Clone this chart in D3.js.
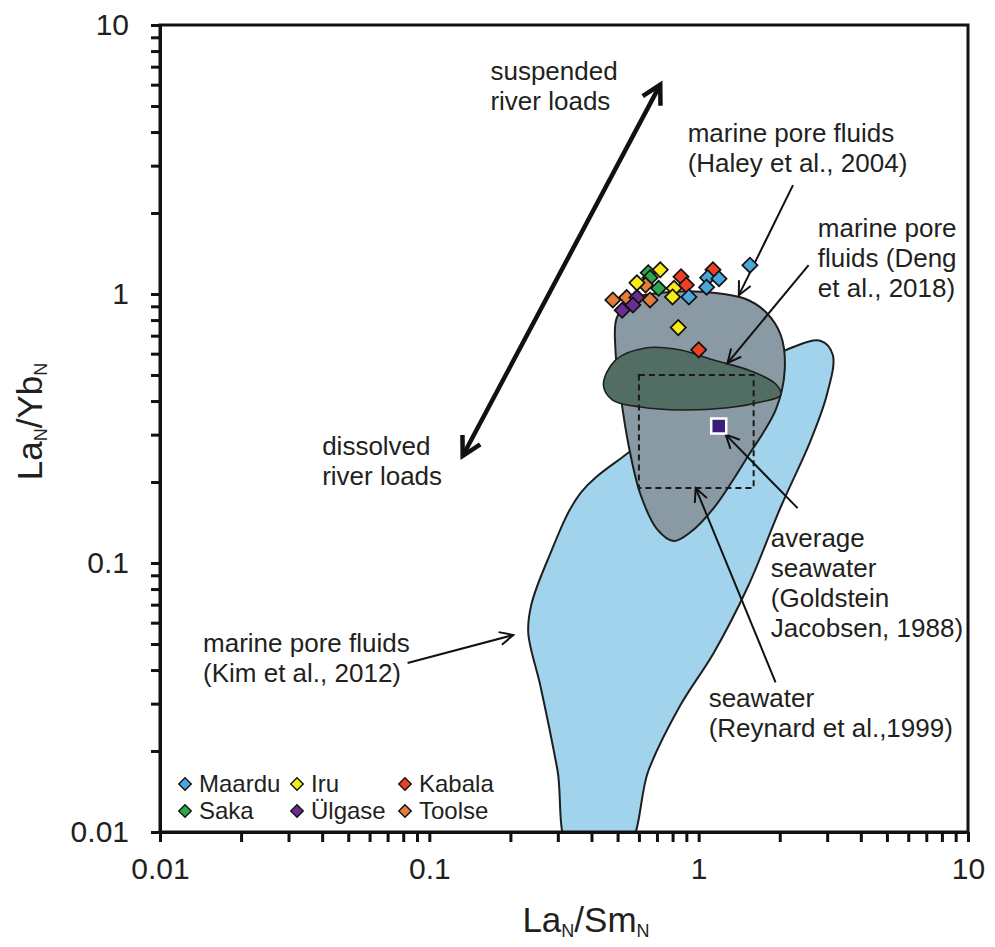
<!DOCTYPE html>
<html>
<head>
<meta charset="utf-8">
<script src="https://cdn.jsdelivr.net/npm/d3@7"></script>
<style>
  body { margin: 0; background: #fff; }
  text { font-family: "Liberation Sans", Arial, Helvetica, sans-serif; fill: #231f20; }
</style>
</head>
<body>
<div id="chart"></div>
<script>
// axis ticks
const majorTicks = [0.01, 0.1, 1, 10];
const tickLabels = ['0.01', '0.1', '1', '10'];

// sample groups (LaN/SmN, LaN/YbN)
const seriesNames = ['Maardu', 'Iru', 'Kabala', 'Saka', 'Ülgase', 'Toolse'];
const seriesColors = ['#4ba6dd', '#f6eb16', '#ee4124', '#2aa84a', '#6b2d91', '#e27d3b'];
const maarduX = [1.55, 1.08, 1.19, 1.07, 0.92];
const maarduY = [1.28, 1.15, 1.14, 1.06, 0.975];
const iruX = [0.72, 0.59, 0.81, 0.80, 0.84];
const iruY = [1.23, 1.10, 1.05, 0.975, 0.75];
const kabalaX = [0.86, 0.90, 1.13, 1.0];
const kabalaY = [1.16, 1.08, 1.23, 0.62];
const sakaX = [0.65, 0.66, 0.71];
const sakaY = [1.20, 1.15, 1.05];
const ulgaseX = [0.59, 0.57, 0.52];
const ulgaseY = [0.97, 0.91, 0.87];
const toolseX = [0.48, 0.54, 0.635, 0.66];
const toolseY = [0.95, 0.97, 1.08, 0.95];

// reference fields, outlines in data units
const kimField = [[0.334, 0.0086], [0.299, 0.0170], [0.259, 0.0346], [0.233, 0.0549], [0.239, 0.0698],
  [0.275, 0.1026], [0.364, 0.182], [0.545, 0.256], [0.857, 0.355], [1.433, 0.50], [2.198, 0.630],
  [2.842, 0.669], [3.149, 0.593], [2.99, 0.421], [2.609, 0.2865], [2.017, 0.1615], [1.521, 0.0814],
  [1.137, 0.0463], [0.857, 0.0297], [0.652, 0.0170], [0.536, 0.0086]];
const haleyField = [[0.496, 0.814], [0.559, 0.950], [0.787, 1.017], [1.157, 1.0085], [1.495, 0.958],
  [1.774, 0.857], [2.017, 0.704], [2.087, 0.522], [1.932, 0.3705], [1.534, 0.252], [1.137, 0.160],
  [0.934, 0.1304], [0.807, 0.1207], [0.704, 0.1327], [0.609, 0.179], [0.549, 0.2747], [0.513, 0.421],
  [0.491, 0.619]];
const dengField = [[0.443, 0.459], [0.491, 0.568], [0.635, 0.630], [0.857, 0.619], [1.137, 0.568],
  [1.561, 0.5176], [1.932, 0.4626], [2.017, 0.421], [1.70, 0.3967], [1.26, 0.377], [0.857, 0.3705],
  [0.609, 0.380], [0.479, 0.4035]];
const reynardX = [0.6, 1.6];
const reynardY = [0.19, 0.5];
const seawaterX = [1.187];
const seawaterY = [0.323];

const riverArrow = [[0.133, 0.25], [0.72, 6.0]];
const noteArrows = [
  [[2.24, 2.54], [1.41, 0.99]],
  [[2.56, 1.28], [1.28, 0.554]],
  [[2.33, 0.16], [1.26, 0.30]],
  [[1.93, 0.036], [0.975, 0.19]],
  [[0.083, 0.0425], [0.205, 0.054]]
];
const notes = [
  {at: [0.1686, 6.25], lines: ['suspended', 'river loads']},
  {at: [0.910, 3.67], lines: ['marine pore fluids', '(Haley et al., 2004)']},
  {at: [2.77, 1.629], lines: ['marine pore', 'fluids (Deng', 'et al., 2018)']},
  {at: [0.0400, 0.252], lines: ['dissolved', 'river loads']},
  {at: [1.853, 0.1147], lines: ['average', 'seawater', '(Goldstein', 'Jacobsen, 1988)']},
  {at: [1.089, 0.02915], lines: ['seawater', '(Reynard et al.,1999)']},
  {at: [0.01445, 0.04667], lines: ['marine pore fluids', '(Kim et al., 2012)']}
];

const width = 995;
const height = 947;
const margin = {top: 25, right: 27, bottom: 115, left: 160};

const x = d3.scaleLog().domain([0.01, 10]).range([margin.left, width - margin.right]);
const y = d3.scaleLog().domain([0.01, 10]).range([height - margin.bottom, margin.top]);

const svg = d3.select('#chart').append('svg')
  .attr('width', width)
  .attr('height', height);

svg.append('clipPath').attr('id', 'plot-clip')
  .append('rect')
    .attr('x', x(0.01)).attr('y', y(10))
    .attr('width', x(10) - x(0.01)).attr('height', y(0.01) - y(10));

const allTicks = [];
for (let k = -2; k < 1; k++) {
  for (let m = 1; m < 10; m++) allTicks.push(+(m * Math.pow(10, k)).toPrecision(3));
}
allTicks.push(10);
const fmt = d => {
  const i = majorTicks.indexOf(d);
  return i < 0 ? '' : tickLabels[i];
};

// fields
const field = d3.line()
  .x(d => x(d[0]))
  .y(d => y(d[1]))
  .curve(d3.curveCatmullRomClosed.alpha(0.5));

const fields = svg.append('g').attr('clip-path', 'url(#plot-clip)');
fields.append('path').attr('d', field(kimField))
  .attr('fill', '#a2d3ec').attr('stroke', '#1e1e1e').attr('stroke-width', 2);
fields.append('path').attr('d', field(haleyField))
  .attr('fill', '#8a9aa5').attr('stroke', '#1e1e1e').attr('stroke-width', 2);
fields.append('path').attr('d', field(dengField))
  .attr('fill', '#526d63').attr('stroke', '#1e1e1e').attr('stroke-width', 1.6);

fields.append('rect')
  .attr('x', x(reynardX[0])).attr('y', y(reynardY[1]))
  .attr('width', x(reynardX[1]) - x(reynardX[0]))
  .attr('height', y(reynardY[0]) - y(reynardY[1]))
  .attr('fill', 'none').attr('stroke', '#1a1a1a').attr('stroke-width', 2)
  .attr('stroke-dasharray', '6,4');

// arrows
function head(g, from, to, len, ang, w) {
  const x0 = x(from[0]), y0 = y(from[1]), x1 = x(to[0]), y1 = y(to[1]);
  const a = Math.atan2(y0 - y1, x0 - x1);
  g.append('path')
    .attr('d', `M${x1 + len * Math.cos(a + ang)},${y1 + len * Math.sin(a + ang)}L${x1},${y1}L${x1 + len * Math.cos(a - ang)},${y1 + len * Math.sin(a - ang)}`)
    .attr('fill', 'none').attr('stroke', '#111').attr('stroke-width', w)
    .attr('stroke-linejoin', 'miter');
}

const arrows = svg.append('g');
arrows.append('line')
  .attr('x1', x(riverArrow[0][0])).attr('y1', y(riverArrow[0][1]))
  .attr('x2', x(riverArrow[1][0])).attr('y2', y(riverArrow[1][1]))
  .attr('stroke', '#111').attr('stroke-width', 4.5);
head(arrows, riverArrow[0], riverArrow[1], 21, 0.5, 4.5);
head(arrows, riverArrow[1], riverArrow[0], 21, 0.5, 4.5);

noteArrows.forEach(function(a) {
  arrows.append('line')
    .attr('x1', x(a[0][0])).attr('y1', y(a[0][1]))
    .attr('x2', x(a[1][0])).attr('y2', y(a[1][1]))
    .attr('stroke', '#111').attr('stroke-width', 2);
  head(arrows, a[0], a[1], 15, 0.45, 2);
});

// samples
const diamond = d3.symbol().type(d3.symbolSquare).size(115);
const samples = [
  [maarduX, maarduY], [iruX, iruY], [kabalaX, kabalaY],
  [sakaX, sakaY], [ulgaseX, ulgaseY], [toolseX, toolseY]
];
const drawOrder = [3, 2, 5, 4, 1, 0];
drawOrder.forEach(function(s) {
  const pts = samples[s][0].map((v, i) => [v, samples[s][1][i]]);
  svg.append('g').selectAll('path')
    .data(pts)
    .enter()
      .append('path')
        .attr('d', diamond)
        .attr('transform', d => `translate(${x(d[0])},${y(d[1])}) rotate(45)`)
        .attr('fill', seriesColors[s])
        .attr('stroke', '#111')
        .attr('stroke-width', 1.7);
});

// average seawater
svg.append('g').selectAll('rect')
  .data(seawaterX.map((v, i) => [v, seawaterY[i]]))
  .enter()
    .append('rect')
      .attr('x', d => x(d[0]) - 7.5).attr('y', d => y(d[1]) - 7.5)
      .attr('width', 15).attr('height', 15)
      .attr('fill', '#3a1e7d').attr('stroke', '#fff').attr('stroke-width', 2.5);

// annotation text
notes.forEach(function(n) {
  const t = svg.append('text')
    .attr('x', x(n.at[0])).attr('y', y(n.at[1]))
    .attr('font-size', 26);
  n.lines.forEach((l, i) => {
    t.append('tspan').attr('x', x(n.at[0])).attr('dy', i ? 30 : 0).text(l);
  });
});

// legend
const legend = svg.append('g');
seriesNames.forEach(function(name, i) {
  const col = i % 3, row = Math.floor(i / 3);
  const lx = [185, 297, 405][col];
  const ly = 784 + row * 27;
  legend.append('path')
    .attr('d', d3.symbol().type(d3.symbolSquare).size(78))
    .attr('transform', `translate(${lx},${ly}) rotate(45)`)
    .attr('fill', seriesColors[i]).attr('stroke', '#111').attr('stroke-width', 1.4);
  legend.append('text')
    .attr('x', lx + 14).attr('y', ly + 8)
    .attr('font-size', 24)
    .text(name);
});

// frame and axes
svg.append('rect')
  .attr('x', x(0.01)).attr('y', y(10))
  .attr('width', x(10) - x(0.01)).attr('height', y(0.01) - y(10))
  .attr('fill', 'none').attr('stroke', '#111').attr('stroke-width', 3);

const xAxis = svg.append('g')
  .attr('transform', `translate(0,${y(0.01)})`)
  .call(d3.axisBottom(x).tickValues(allTicks).tickFormat(fmt).tickSize(10).tickSizeOuter(0).tickPadding(16));
const yAxis = svg.append('g')
  .attr('transform', `translate(${x(0.01)},0)`)
  .call(d3.axisLeft(y).tickValues(allTicks).tickFormat(fmt).tickSize(9).tickSizeOuter(0).tickPadding(22));

[xAxis, yAxis].forEach(function(ax) {
  ax.select('.domain').attr('stroke', '#111').attr('stroke-width', 3);
  ax.selectAll('.tick line').attr('stroke', '#111').attr('stroke-width', 3);
  ax.selectAll('.tick text')
    .attr('font-size', 30)
    .attr('font-family', '"Liberation Sans", Arial, sans-serif')
    .attr('fill', '#231f20');
});

// axis titles
const xTitle = svg.append('text')
  .attr('x', (x(0.01) + x(10)) / 2 + 22).attr('y', 932)
  .attr('text-anchor', 'middle')
  .attr('font-size', 35);
xTitle.append('tspan').text('La');
xTitle.append('tspan').attr('font-size', 18).attr('dy', 5).text('N');
xTitle.append('tspan').attr('dy', -5).text('/Sm');
xTitle.append('tspan').attr('font-size', 18).attr('dy', 5).text('N');

const yTitle = svg.append('text')
  .attr('transform', `translate(42,${(y(0.01) + y(10)) / 2 - 7}) rotate(-90)`)
  .attr('text-anchor', 'middle')
  .attr('font-size', 35);
yTitle.append('tspan').text('La');
yTitle.append('tspan').attr('font-size', 18).attr('dy', 5).text('N');
yTitle.append('tspan').attr('dy', -5).text('/Yb');
yTitle.append('tspan').attr('font-size', 18).attr('dy', 5).text('N');
</script>
</body>
</html>
